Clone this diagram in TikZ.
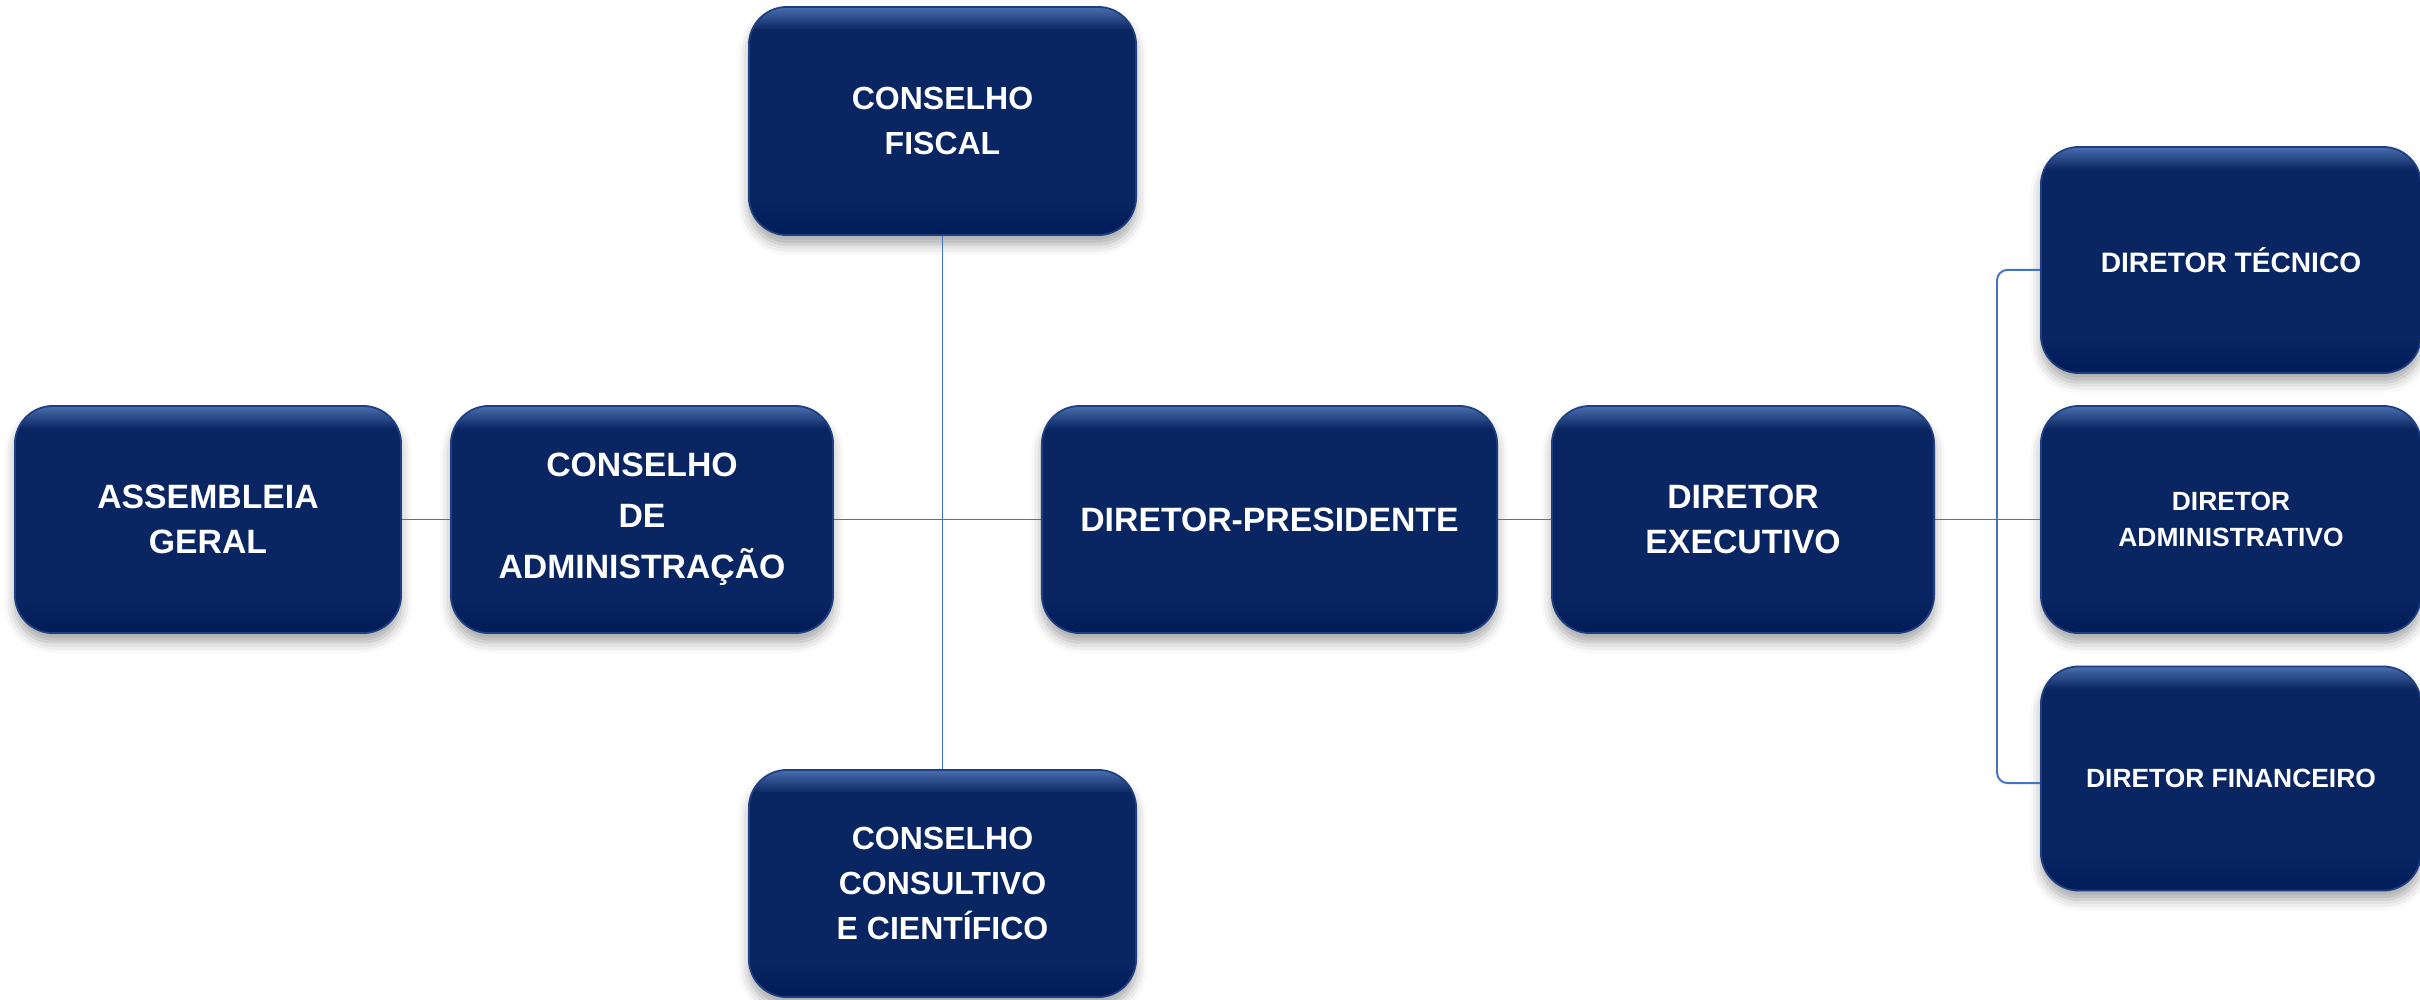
\documentclass[tikz,border=0pt]{standalone}
\usepackage{fontspec}
\setmainfont{Liberation Sans}
\usetikzlibrary{shadows.blur}
\definecolor{boxbot}{HTML}{001C58}
\definecolor{boxmid}{HTML}{0A2662}
\definecolor{boxtop}{HTML}{4A6EAE}
\definecolor{boxedge}{HTML}{1E3F82}
\definecolor{linkblue}{HTML}{4472C4}
\pgfdeclareverticalshading{boxshade}{100bp}{color(0bp)=(boxbot); color(25bp)=(boxbot); color(33bp)=(boxmid); color(70bp)=(boxmid); color(75bp)=(boxtop); color(100bp)=(boxtop)}
\tikzset{
  orgbox/.style={rectangle, rounded corners=0.38cm, shading=boxshade, draw=boxedge, line width=0.5pt,
    text=white, align=center, font=\bfseries, inner sep=0pt,
    blur shadow={shadow xshift=0pt, shadow yshift=-2.6pt, shadow blur radius=3pt, shadow opacity=35}},
  conn/.style={draw=linkblue, line width=0.55pt}
}
\begin{document}
\begin{tikzpicture}[x=0.01cm,y=-0.01cm]
\useasboundingbox (0,0) rectangle (2420,999);
\node[orgbox, minimum width=3.86cm, minimum height=2.27cm, font=\bfseries\fontsize{9.6}{12.6}\selectfont] (as) at (208,519.5) {ASSEMBLEIA\\GERAL};
\node[orgbox, minimum width=3.82cm, minimum height=2.27cm, font=\bfseries\fontsize{9.6}{14.5}\selectfont] (ca) at (642,519.5) {CONSELHO\\DE\\ADMINISTRAÇÃO};
\node[orgbox, minimum width=3.87cm, minimum height=2.28cm, font=\bfseries\fontsize{9.1}{12.8}\selectfont] (cf) at (942.5,121) {CONSELHO\\FISCAL};
\node[orgbox, minimum width=4.55cm, minimum height=2.27cm, font=\bfseries\fontsize{9.6}{12.6}\selectfont] (dp) at (1269.5,519.5) {DIRETOR-PRESIDENTE};
\node[orgbox, minimum width=3.82cm, minimum height=2.27cm, font=\bfseries\fontsize{9.6}{13}\selectfont] (de) at (1743,519.5) {DIRETOR\\EXECUTIVO};
\node[orgbox, minimum width=3.87cm, minimum height=2.27cm, font=\bfseries\fontsize{9.1}{12.8}\selectfont] (cc) at (942.5,883.5) {CONSELHO\\CONSULTIVO\\E CIENTÍFICO};
\node[orgbox, minimum width=3.80cm, minimum height=2.26cm, font=\bfseries\fontsize{8}{10}\selectfont] (dt) at (2231,260) {DIRETOR TÉCNICO};
\node[orgbox, minimum width=3.80cm, minimum height=2.27cm, font=\bfseries\fontsize{7.5}{10.2}\selectfont] (da) at (2231,519.5) {DIRETOR\\ADMINISTRATIVO};
\node[orgbox, minimum width=3.80cm, minimum height=2.24cm, font=\bfseries\fontsize{7.5}{10}\selectfont] (df) at (2231,778.5) {DIRETOR FINANCEIRO};
\draw[conn] (as.east) -- (ca.west);
\draw[conn] (ca.east) -- (dp.west);
\draw[conn] (cf.south) -- (cc.north);
\draw[conn] (dp.east) -- (de.west);
\draw[conn] (de.east) -- (da.west);
\draw[conn, rounded corners=3pt] ([yshift=-2.8pt]dt.west) -- ++(-43,0) |- ([yshift=-1.3pt]df.west);
\end{tikzpicture}
\end{document}
